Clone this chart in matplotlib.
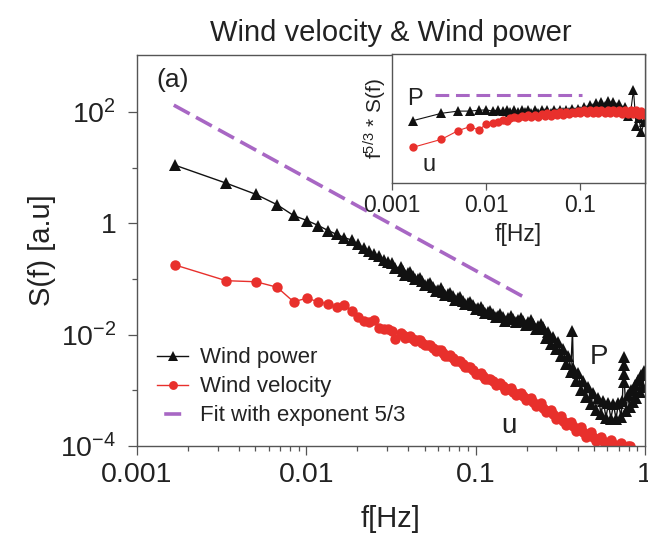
import numpy as np
import matplotlib
matplotlib.use("Agg")  # headless
import matplotlib.pyplot as plt
from matplotlib.lines import Line2D
from matplotlib.ticker import FixedLocator, NullFormatter, NullLocator, LogLocator

plt.rcParams["font.family"] = ["Liberation Sans", "DejaVu Sans"]
plt.rcParams["mathtext.fontset"] = "custom"
plt.rcParams["mathtext.rm"] = "Liberation Sans"
plt.rcParams["mathtext.it"] = "Liberation Sans:italic"

# main panel: power spectra S(f)
f_power = [0.00168, 0.00336, 0.00504, 0.00672, 0.0084, 0.01008, 0.01176, 0.01344, 0.01512, 0.0168,
           0.0185, 0.0202, 0.0218, 0.0235, 0.0252, 0.0269, 0.0286, 0.0302, 0.0319, 0.0336,
           0.036, 0.0372, 0.0385, 0.0397, 0.041, 0.0425, 0.044, 0.0455, 0.047, 0.0485,
           0.05, 0.052, 0.054, 0.056, 0.058, 0.060, 0.062, 0.064, 0.066, 0.0685,
           0.071, 0.0735, 0.076, 0.0785, 0.081, 0.084, 0.087, 0.09, 0.093, 0.0965,
           0.1, 0.1035, 0.107, 0.1105, 0.114, 0.118, 0.122, 0.1265, 0.131, 0.1355,
           0.14, 0.145, 0.15, 0.1555, 0.161, 0.1665, 0.172, 0.178, 0.184, 0.1905,
           0.197, 0.204, 0.211, 0.2185, 0.226, 0.234, 0.242, 0.246,
           0.25, 0.259, 0.268, 0.277, 0.287, 0.297, 0.307, 0.318, 0.329, 0.34,
           0.352, 0.364, 0.373, 0.377, 0.39, 0.404, 0.418, 0.432, 0.447, 0.463,
           0.479, 0.496, 0.513, 0.531, 0.549, 0.568, 0.588, 0.608, 0.629, 0.651,
           0.674, 0.697, 0.721, 0.735, 0.749, 0.751, 0.753, 0.755, 0.772, 0.79,
           0.81, 0.827, 0.85, 0.87, 0.885, 0.91, 0.93, 0.948, 0.97, 0.99]
S_power = [11.0, 5.25, 3.3, 2.15, 1.38, 1.12, 0.91, 0.74, 0.63, 0.55,
           0.50, 0.42, 0.355, 0.32, 0.275, 0.26, 0.22, 0.20, 0.19, 0.16,
           0.162, 0.14, 0.120, 0.126, 0.132, 0.113, 0.0977, 0.101, 0.105, 0.090,
           0.0776, 0.080, 0.0832, 0.0716, 0.0617, 0.0646, 0.0676, 0.0589, 0.0513, 0.0537,
           0.0562, 0.049, 0.0427, 0.0447, 0.0468, 0.0407, 0.0355, 0.0372, 0.0389, 0.0335,
           0.0288, 0.0302, 0.0316, 0.0279, 0.0245, 0.0257, 0.0269, 0.0234, 0.0204, 0.0216,
           0.0234, 0.0204, 0.0178, 0.0195, 0.0214, 0.0188, 0.0166, 0.0182, 0.0200, 0.0174,
           0.0148, 0.0166, 0.0186, 0.0155, 0.0126, 0.014, 0.0155, 0.0126,
           0.0135, 0.0087, 0.0112, 0.0069, 0.0089, 0.0055, 0.0074, 0.0041, 0.0056, 0.00295,
           0.0042, 0.0021, 0.0117, 0.0025, 0.00145, 0.00204, 0.00102, 0.00148, 0.00076, 0.00115,
           0.00056, 0.00091, 0.000447, 0.00074, 0.000372, 0.00063, 0.000324, 0.00058, 0.000309, 0.00056,
           0.000309, 0.00058, 0.000331, 0.00065, 0.0040, 0.0028, 0.0020, 0.0014, 0.000417, 0.00083,
           0.0005, 0.001, 0.00062, 0.00126, 0.00074, 0.00155, 0.00093, 0.00186, 0.00115, 0.0022]

f_vel = [0.00168, 0.00336, 0.00504, 0.00672, 0.0084, 0.01008, 0.01176, 0.01344, 0.01512, 0.0168,
         0.0185, 0.0202, 0.0218, 0.0235, 0.0252, 0.0269, 0.0286, 0.0302, 0.0319, 0.0336,
         0.036, 0.0372, 0.0385, 0.0397, 0.041, 0.0425, 0.044, 0.0455, 0.047, 0.0485,
         0.05, 0.052, 0.054, 0.056, 0.058, 0.060, 0.062, 0.064, 0.066, 0.0685,
         0.071, 0.0735, 0.076, 0.0785, 0.081, 0.084, 0.087, 0.09, 0.093, 0.0965,
         0.1, 0.1035, 0.107, 0.1105, 0.114, 0.118, 0.122, 0.1265, 0.131, 0.1355,
         0.14, 0.145, 0.15, 0.1555, 0.161, 0.1665, 0.172, 0.178, 0.184, 0.1905,
         0.197, 0.204, 0.211, 0.2185, 0.226, 0.234, 0.242, 0.25, 0.259, 0.268,
         0.277, 0.287, 0.297, 0.307, 0.318, 0.329, 0.34, 0.352, 0.364, 0.377,
         0.39, 0.404, 0.418, 0.432, 0.447, 0.463, 0.479, 0.496, 0.513, 0.531,
         0.549, 0.568, 0.588, 0.608, 0.629, 0.651, 0.674, 0.697, 0.721, 0.746,
         0.772, 0.796, 0.82]
S_vel = [0.178, 0.093, 0.089, 0.071, 0.039, 0.045, 0.039, 0.0355, 0.031, 0.034,
         0.027, 0.021, 0.0178, 0.017, 0.0182, 0.0132, 0.0126, 0.0126, 0.0117, 0.0083,
         0.0107, 0.0097, 0.0087, 0.009, 0.0093, 0.0084, 0.0076, 0.0079, 0.0081, 0.0072,
         0.0065, 0.0065, 0.0066, 0.0058, 0.0051, 0.0052, 0.0054, 0.0047, 0.0042, 0.0042,
         0.0043, 0.0038, 0.0033, 0.0033, 0.0034, 0.003, 0.0026, 0.0026, 0.0026, 0.0023,
         0.0020, 0.002, 0.00204, 0.0018, 0.00158, 0.0016, 0.00162, 0.00145, 0.00126, 0.00132,
         0.00138, 0.00119, 0.00102, 0.00106, 0.0011, 0.00095, 0.00083, 0.00086, 0.00089, 0.00078,
         0.00066, 0.0007, 0.00074, 0.00062, 0.00052, 0.00055, 0.00058, 0.00048, 0.0004, 0.00042,
         0.00045, 0.00037, 0.0003, 0.00032, 0.00035, 0.000285, 0.000234, 0.000254, 0.000275, 0.000226,
         0.000186, 0.000202, 0.000219, 0.00018, 0.000148, 0.000162, 0.000178, 0.000148, 0.000123, 0.000135,
         0.000148, 0.000123, 0.000102, 0.000114, 0.000126, 0.000107, 0.000091, 0.000102, 0.000112, 0.0000989,
         0.000091, 0.0001, 0.0001]

# -5/3 fit line (two end points on a log-log straight line)
f_fit = [0.00165, 0.205]
S_fit = [132.0, 0.0426]

# inset: compensated spectra f^(5/3) * S(f), arbitrary units
f_inset = [0.00168, 0.00336, 0.00504, 0.00672, 0.0084, 0.01008, 0.01176, 0.01344, 0.01512, 0.0168,
           0.018, 0.02, 0.022, 0.024, 0.026, 0.028, 0.03, 0.033, 0.036, 0.039,
           0.042, 0.045, 0.049, 0.053, 0.057, 0.061, 0.066, 0.071, 0.076, 0.082,
           0.088, 0.095, 0.1, 0.11, 0.118, 0.127, 0.136, 0.146, 0.157, 0.169,
           0.182, 0.196, 0.21, 0.226, 0.243, 0.261, 0.28, 0.3, 0.32, 0.345,
           0.37, 0.395, 0.42, 0.45, 0.48]
P_comp = [0.82, 0.97, 1.02, 1.02, 1.04, 1.05, 1.02, 1.05, 1.02, 1.05,
          1.0, 1.05, 0.99, 1.05, 0.99, 1.04, 0.98, 1.04, 0.98, 1.04,
          0.98, 1.04, 0.98, 1.04, 0.98, 1.05, 0.99, 1.05, 0.99, 1.06,
          1.0, 1.07, 1.02, 1.11, 1.05, 1.17, 1.10, 1.23, 1.12, 1.26,
          1.15, 1.29, 1.15, 1.26, 1.12, 1.20, 1.05, 1.12, 0.91, 1.0,
          1.66, 0.72, 0.87, 0.63, 0.79]
u_comp = [0.444, 0.533, 0.65, 0.713, 0.66, 0.76, 0.78, 0.80, 0.83, 0.81,
          0.87, 0.90, 0.87, 0.91, 0.89, 0.93, 0.89, 0.94, 0.90, 0.95,
          0.91, 0.97, 0.92, 0.98, 0.93, 0.99, 0.94, 1.0, 0.95, 1.01,
          0.97, 1.02, 0.98, 1.04, 0.98, 1.04, 0.98, 1.05, 0.98, 1.05,
          0.98, 1.05, 0.97, 1.05, 0.97, 1.05, 0.95, 1.05, 0.95, 1.04,
          0.95, 1.04, 0.94, 1.02, 0.93]
f_fit_inset = [0.0029, 0.104]
fit_inset = [1.48, 1.48]

x_ticks = [0.001, 0.01, 0.1, 1]
x_ticklabels = ["0.001", "0.01", "0.1", "1"]
y_ticks = [1e-4, 1e-2, 1, 1e2]
y_ticklabels = [r"$\mathregular{10^{-4}}$", r"$\mathregular{10^{-2}}$", "1", r"$\mathregular{10^{2}}$"]
y_minor = [1e-3, 1e-1, 1e1]

BLACK = "#111111"
RED = "#e8302c"
PURPLE = "#a867c4"
TXT = "#222222"
SPINE = "#555555"

fig = plt.figure(figsize=(6.48, 5.36), dpi=100)
ax = fig.add_axes([0.2114, 0.1679, 0.7840, 0.7295])

l_pow, = ax.plot(f_power, S_power, "-^", color=BLACK, lw=1.0, ms=8.5, mew=0)
l_vel, = ax.plot(f_vel, S_vel, "-o", color=RED, lw=1.0, ms=7.5, mew=0)
ax.plot(f_fit, S_fit, "--", color=PURPLE, lw=2.6, dashes=(5, 2.0))

ax.set_xscale("log")
ax.set_yscale("log")
ax.set_xlim(0.001, 1)
ax.set_ylim(1e-4, 1050)

ax.xaxis.set_major_locator(FixedLocator(x_ticks))
ax.set_xticklabels(x_ticklabels)
ax.xaxis.set_minor_locator(LogLocator(base=10, subs=np.arange(2, 10)))
ax.xaxis.set_minor_formatter(NullFormatter())
ax.yaxis.set_major_locator(FixedLocator(y_ticks))
ax.set_yticklabels(y_ticklabels)
ax.yaxis.set_minor_locator(FixedLocator(y_minor))
ax.yaxis.set_minor_formatter(NullFormatter())

ax.tick_params(which="major", direction="out", length=6.5, width=0.9, color=SPINE,
               labelsize=20.5, labelcolor=TXT, pad=5)
ax.tick_params(axis="y", which="major", pad=8.5)
ax.tick_params(which="minor", direction="out", length=3.5, width=0.9, color=SPINE)
ax.tick_params(top=False, right=False, which="both")
for s in ax.spines.values():
    s.set_color(SPINE)
    s.set_linewidth(1.0)

ax.set_xlabel("f[Hz]", fontsize=21, color=TXT, labelpad=12)
ax.set_ylabel("S(f) [a.u]", fontsize=21, color=TXT, labelpad=3)

ax.text(0.071, 0.936, "(a)", transform=ax.transAxes, fontsize=19, color=TXT,
        ha="center", va="center")
ax.text(0.535, 0.00398, "P", fontsize=20, color=TXT, ha="center", va="center")
ax.text(0.157, 0.000226, "u", fontsize=20, color=TXT, ha="center", va="center")

# legend: fit entry drawn as one short dash
fit_handle = Line2D([], [], color=PURPLE, lw=2.6, linestyle=(4.7, (4.7, 2.0)))
leg = ax.legend([l_pow, l_vel, fit_handle],
                ["Wind power", "Wind velocity", "Fit with exponent 5/3"],
                loc="lower left", bbox_to_anchor=(0.04, 0.05), frameon=False,
                fontsize=16, handlelength=1.4, handletextpad=0.5, labelspacing=0.36,
                borderpad=0, borderaxespad=0, markerscale=0.85)
for t in leg.get_texts():
    t.set_color(TXT)

fig.text(391 / 648, 1 - 33 / 536, "Wind velocity & Wind power", fontsize=21,
         color=TXT, ha="center", va="center")

# inset
axi = fig.add_axes([0.6049, 0.6586, 0.3904, 0.2407])
axi.plot(f_inset, P_comp, "-^", color=BLACK, lw=0.8, ms=6.5, mew=0)
axi.plot(f_inset, u_comp, "-o", color=RED, lw=0.8, ms=6, mew=0)
axi.plot(f_fit_inset, fit_inset, "--", color=PURPLE, lw=2.2, dashes=(4.5, 2.2))
axi.set_xscale("log")
axi.set_yscale("log")
axi.set_xlim(0.001, 0.49)
axi.set_ylim(0.195, 3.8)
axi.xaxis.set_major_locator(FixedLocator([0.001, 0.01, 0.1]))
axi.set_xticklabels(["0.001", "0.01", "0.1"])
axi.xaxis.set_minor_locator(NullLocator())
axi.yaxis.set_major_locator(NullLocator())
axi.yaxis.set_minor_locator(NullLocator())
axi.tick_params(which="major", direction="out", length=5, width=0.9, color=SPINE,
                labelsize=16.5, labelcolor=TXT, pad=3)
for s in axi.spines.values():
    s.set_color(SPINE)
    s.set_linewidth(1.0)
axi.set_xlabel("f[Hz]", fontsize=16.5, color=TXT, labelpad=4)
axi.set_ylabel(r"$\mathregular{f^{5/3}}$ * S(f)", fontsize=15, color=TXT, labelpad=2)
axi.text(0.00176, 1.35, "P", fontsize=17, color=TXT, ha="center", va="center")
axi.text(0.00248, 0.295, "u", fontsize=17, color=TXT, ha="center", va="center")

fig.savefig("out.png", dpi=100)
print("Saved out.png")
